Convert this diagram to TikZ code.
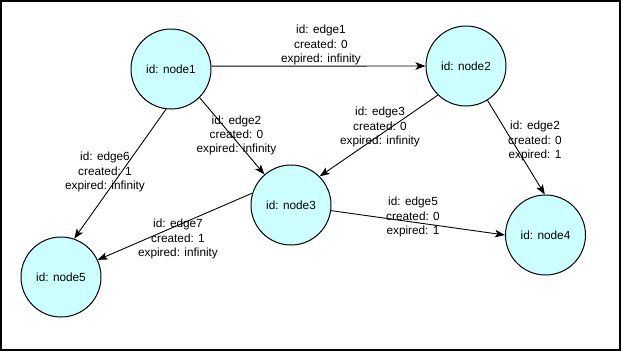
\documentclass[tikz,border=0pt]{standalone}
\usepackage{fontspec}
\setmainfont{Liberation Sans}
\usetikzlibrary{arrows.meta}
\definecolor{nodefill}{HTML}{CCFFFF}
\begin{document}
\begin{tikzpicture}[x=1pt,y=-1pt,
  gnode/.style={circle,draw=black,line width=1pt,fill=nodefill,minimum size=80pt,inner sep=0pt,font=\fontsize{11.8}{14}\selectfont},
  elabel/.style={align=center,inner sep=0pt,font=\fontsize{11.8}{14.3}\selectfont},
  conn/.style={draw=black,line width=0.9pt,-{Stealth[length=10pt,width=7.5pt,inset=2.5pt]}}]
\useasboundingbox (0,0) rectangle (621,351);
\draw[line width=1.5pt] (1,1) rectangle (620,350);

\node[gnode] (n1) at (171,69) {id: node1};
\node[gnode] (n2) at (466,66) {id: node2};
\node[gnode] (n3) at (291,205) {id: node3};
\node[gnode] (n4) at (545.5,235) {id: node4};
\node[gnode] (n5) at (61,277) {id: node5};

\draw[conn] (n1.4) -- (n2.180);
\draw[conn] (n1.-45) -- (n3.131);
\draw[conn] (n2.-134) -- (n3.45);
\draw[conn] (n2.-58) -- (n4.91);
\draw[conn] (n1.-97) -- (n5.71);
\draw[conn] (n3.-8) -- (n4.180);
\draw[conn] (n3.163) -- (n5.25);

\node[elabel] (l1) at (321,45) {id: edge1\\created: 0\\expired: infinity};
\node[elabel] (l2) at (236.5,135.5) {id: edge2\\created: 0\\expired: infinity};
\node[elabel] (l3) at (380,127) {id: edge3\\created: 0\\expired: infinity};
\node[elabel] (l4) at (535,141) {id: edge2\\created: 0\\expired: 1};
\node[elabel] (l6) at (105,172) {id: edge6\\created: 1\\expired: infinity};
\node[elabel] (l5) at (413,217) {id: edge5\\created: 0\\expired: 1};
\node[elabel] (l7) at (178,239) {id: edge7\\created: 1\\expired: infinity};
\end{tikzpicture}
\end{document}
